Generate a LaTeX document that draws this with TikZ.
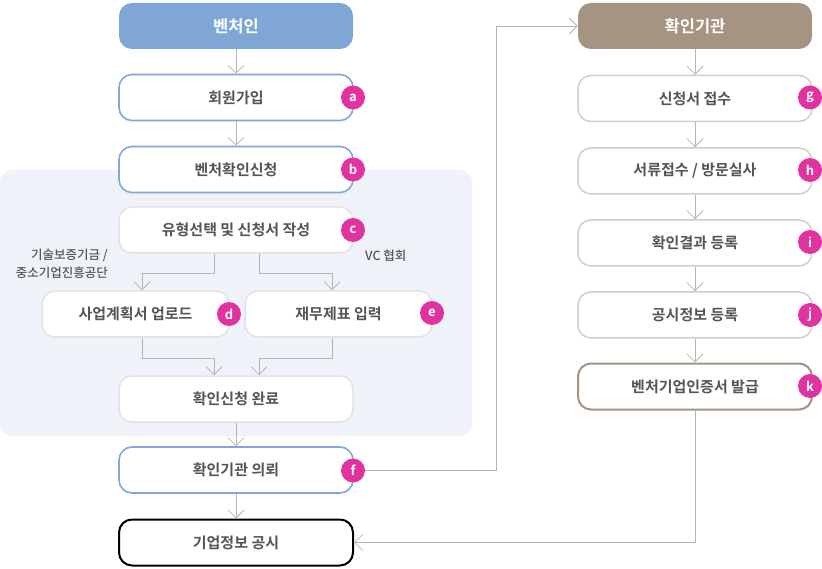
\documentclass[tikz,border=0pt]{standalone}
\usepackage{fontspec}
\setmainfont{Noto Sans CJK KR}[BoldFont={Noto Sans CJK KR Bold}]
\newfontfamily\krmed{Noto Sans CJK KR Medium}
\usetikzlibrary{arrows.meta,calc}
\definecolor{bluefill}{HTML}{7FA6D5}
\definecolor{blueline}{HTML}{80A7D8}
\definecolor{taupefill}{HTML}{A69483}
\definecolor{taupelight}{HTML}{D6CDC4}
\definecolor{taupedark}{HTML}{A49282}
\definecolor{grayline}{HTML}{E2E2E2}
\definecolor{bgregion}{HTML}{EFF3F9}
\definecolor{badgecol}{HTML}{E0339F}
\definecolor{txt}{HTML}{555555}
\definecolor{conn}{HTML}{B5B5B5}
\tikzset{
  box/.style={draw, rectangle, rounded corners=13pt, minimum width=234pt, minimum height=46pt,
    fill=white, text=txt, font=\bfseries\fontsize{15}{17}\selectfont, inner sep=0pt},
  title/.style={box, draw=none, text=white, font=\bfseries\fontsize{16.5}{18}\selectfont},
  bluebox/.style={box, draw=blueline, line width=1.6pt},
  graybox/.style={box, draw=grayline, line width=1.5pt},
  tbox/.style={box, draw=taupelight, line width=1.5pt},
  badge/.style={circle, fill=badgecol, minimum size=24pt, inner sep=0pt, text=white,
    font=\bfseries\fontsize{13}{13}\selectfont},
  arr/.style={draw=conn, line width=0.9pt, -{Straight Barb[length=8pt,width=16pt,line width=0.8pt]}},
  side/.style={text=txt, font=\krmed\fontsize{12.5}{18}\selectfont, inner sep=0pt}
}
\begin{document}
\begin{tikzpicture}[x=1pt,y=-1pt]
\useasboundingbox (0,0) rectangle (822,569);
% background region
\fill[bgregion, rounded corners=12pt] (0,170) rectangle (472,436);
% left column
\node[title, fill=bluefill] (v0) at (236,26) {벤처인};
\node[bluebox] (a) at (236,97.5) {회원가입};
\node[bluebox] (b) at (236,169.5) {벤처확인신청};
\node[graybox] (c) at (236,230) {유형선택 및 신청서 작성};
\node[graybox, minimum width=187pt] (d) at (135.5,314) {사업계획서 업로드};
\node[graybox, minimum width=187pt] (e) at (338.5,314) {재무제표 입력};
\node[graybox] (done) at (236,399) {확인신청 완료};
\node[bluebox] (f) at (236,470) {확인기관 의뢰};
\node[box, draw=black, line width=2pt] (pub) at (236,542.5) {기업정보 공시};
% side labels
\node[side, anchor=east, align=right] (lab1) at (108,264) {기술보증기금 /\\중소기업진흥공단};
\node[side, anchor=west] (lab2) at (365,256) {VC 협회};
% right column
\node[title, fill=taupefill] (v1) at (695,26) {확인기관};
\node[tbox] (g) at (695,98.5) {신청서 접수};
\node[tbox] (h) at (695,171) {서류접수 / 방문실사};
\node[tbox] (i) at (695,243) {확인결과 등록};
\node[tbox] (j) at (695,315) {공시정보 등록};
\node[box, draw=taupedark, line width=2pt] (k) at (695,386.5) {벤처기업인증서 발급};
% badges
\node[badge] (ba) at (353,97.5) {a};
\node[badge] (bb) at (353,169.5) {b};
\node[badge] (bc) at (353,230) {c};
\node[badge] (bd) at (229,314) {d};
\node[badge] (be) at (432,313) {e};
\node[badge] (bf) at (353,470.5) {f};
\node[badge] (bg) at (810,97.5) {g};
\node[badge] (bh) at (810,170) {h};
\node[badge] (bi) at (810,242) {i};
\node[badge] (bj) at (810,315) {j};
\node[badge] (bk) at (810,386) {k};
% connectors left
\draw[arr] (v0.south) -- (a.north);
\draw[arr] (a.south) -- (b.north);
\draw[arr] ($(c.south)+(-22,0)$) -- ++(0,20) -| ($(d.north)+(6.5,0)$);
\draw[arr] ($(c.south)+(23,0)$) -- ++(0,20) -| ($(e.north)+(-6.5,0)$);
\draw[arr] ($(d.south)+(6.5,0)$) -- ++(0,21) -| ($(done.north)+(-22,0)$);
\draw[arr] ($(e.south)+(-6.5,0)$) -- ++(0,21) -| ($(done.north)+(23,0)$);
\draw[arr] (done.south) -- (f.north);
\draw[arr] (f.south) -- (pub.north);
% connectors right
\draw[arr] (v1.south) -- (g.north);
\draw[arr] (g.south) -- (h.north);
\draw[arr] (h.south) -- (i.north);
\draw[arr] (i.south) -- (j.north);
\draw[arr] (j.south) -- (k.north);
% cross connectors
\draw[arr] (bf.east) -- ++(131,0) |- (v1.west);
\draw[arr] (k.south) |- (pub.east);
\end{tikzpicture}
\end{document}
